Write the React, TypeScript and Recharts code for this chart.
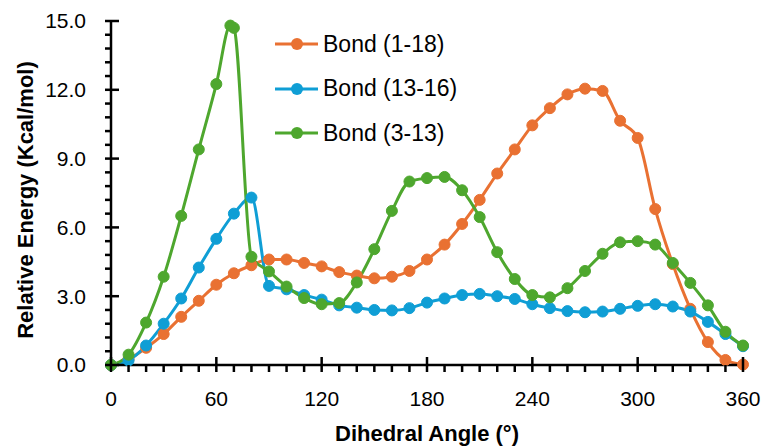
import React from 'react';
import { LineChart, Line, XAxis, YAxis, Legend } from 'recharts';

const angles = [0, 10, 20, 30, 40, 50, 60, 70, 80, 90, 100, 110, 120, 130, 140, 150, 160, 170, 180, 190, 200, 210, 220, 230, 240, 250, 260, 270, 280, 290, 300, 310, 320, 330, 340, 350, 360];
const bond118 = [0, 0.25, 0.75, 1.35, 2.1, 2.8, 3.5, 4.0, 4.35, 4.6, 4.6, 4.45, 4.3, 4.05, 3.9, 3.78, 3.85, 4.1, 4.6, 5.25, 6.15, 7.2, 8.35, 9.4, 10.45, 11.2, 11.8, 12.05, 11.95, 10.65, 9.9, 6.8, 4.4, 2.45, 1.0, 0.22, 0.02];
const bond1316 = [0, 0.2, 0.85, 1.8, 2.9, 4.25, 5.5, 6.6, 7.3, 3.45, 3.3, 3.05, 2.85, 2.6, 2.5, 2.4, 2.38, 2.48, 2.72, 2.9, 3.05, 3.1, 3.0, 2.88, 2.65, 2.48, 2.35, 2.3, 2.33, 2.45, 2.58, 2.65, 2.55, 2.33, 1.88, 1.35, 0.82];
const anglesB313 = [0, 10, 20, 30, 40, 50, 60, 68, 70, 80, 90, 100, 110, 120, 130, 140, 150, 160, 170, 180, 190, 200, 210, 220, 230, 240, 250, 260, 270, 280, 290, 300, 310, 320, 330, 340, 350, 360];
const bond313 = [0, 0.45, 1.85, 3.85, 6.5, 9.4, 12.25, 14.8, 14.7, 4.72, 4.08, 3.42, 2.92, 2.65, 2.7, 3.6, 5.05, 6.72, 8.0, 8.15, 8.2, 7.62, 6.45, 4.92, 3.75, 3.05, 2.95, 3.35, 4.1, 4.85, 5.35, 5.4, 5.25, 4.45, 3.58, 2.6, 1.45, 0.85];

const xMajorTicks = [0, 60, 120, 180, 240, 300, 360];
const yMajorTicks = [0, 3, 6, 9, 12, 15];
const xTicks = Array.from({ length: 37 }, (_, i) => i * 10);
const yTicks = Array.from({ length: 26 }, (_, i) => Math.round(i * 6) / 10);

const series = [
  { name: 'Bond (1-18)', color: '#E97132', xs: angles, ys: bond118 },
  { name: 'Bond (13-16)', color: '#0F9ED5', xs: angles, ys: bond1316 },
  { name: 'Bond (3-13)', color: '#4EA72E', xs: anglesB313, ys: bond313 },
];

const FONT = '"Liberation Sans", Arial, sans-serif';

const isMajor = (v: number, list: number[]) => list.some((m) => Math.abs(m - v) < 1e-6);

const XTick = (props: any) => {
  const { x, y, payload } = props;
  const v = payload.value;
  const major = isMajor(v, xMajorTicks);
  return (
    <g>
      <line x1={x} x2={x} y1={major ? y - 8 : y} y2={y + 7} stroke="#000" strokeWidth={2.5} />
      {major && (
        <text x={x} y={y + 34} dy="0.35em" textAnchor="middle" fontSize={21} fontFamily={FONT} fill="#000">
          {v}
        </text>
      )}
    </g>
  );
};

const YTick = (props: any) => {
  const { x, y, payload } = props;
  const v = payload.value;
  const major = isMajor(v, yMajorTicks);
  return (
    <g>
      <line x1={x - 6} x2={major ? x + 8 : x} y1={y} y2={y} stroke="#000" strokeWidth={2.5} />
      {major && (
        <text x={x - 25} y={y} dy="0.35em" textAnchor="end" fontSize={21} fontFamily={FONT} fill="#000">
          {v.toFixed(1)}
        </text>
      )}
    </g>
  );
};

const XTitle = (props: any) => {
  const vb = props.viewBox;
  return (
    <text x={vb.x + vb.width / 2} y={vb.y + 68} dy="0.35em" textAnchor="middle" fontSize={22} fontWeight="bold" fontFamily={FONT} fill="#000">
      Dihedral Angle (°)
    </text>
  );
};

const YTitle = (props: any) => {
  const cx = 25;
  const cy = 200;
  return (
    <text x={cx} y={cy} dy="0.35em" transform={`rotate(-90, ${cx}, ${cy})`} textAnchor="middle" fontSize={22} fontWeight="bold" fontFamily={FONT} fill="#000">
      Relative Energy (Kcal/mol)
    </text>
  );
};

const LegendContent = () => (
  <div style={{ fontFamily: FONT }}>
    {series.map((s) => (
      <div key={s.name} style={{ display: 'flex', alignItems: 'center', height: 44.5 }}>
        <svg width={43} height={14} style={{ display: 'block' }}>
          <line x1={0} x2={43} y1={7} y2={7} stroke={s.color} strokeWidth={3} />
          <circle cx={22} cy={7} r={6} fill={s.color} />
        </svg>
        <span style={{ marginLeft: 5, fontSize: 23, lineHeight: 1, color: '#000', whiteSpace: 'nowrap' }}>{s.name}</span>
      </div>
    ))}
  </div>
);

export default function App() {
  return (
    <div style={{ position: 'absolute', left: 0, top: 0, width: 765, height: 448, background: '#fff' }}>
      <LineChart width={765} height={448} margin={{ top: 21, right: 22, bottom: 0, left: 0 }}>
        <XAxis
          type="number"
          dataKey="x"
          domain={[0, 360]}
          ticks={xTicks}
          interval={0}
          tickSize={0}
          tickMargin={0}
          tickLine={false}
          tick={<XTick />}
          axisLine={{ stroke: '#000', strokeWidth: 2.5 }}
          height={83}
          allowDuplicatedCategory={false}
          label={<XTitle />}
        />
        <YAxis
          type="number"
          domain={[0, 15]}
          ticks={yTicks}
          interval={0}
          tickSize={0}
          tickMargin={0}
          tickLine={false}
          tick={<YTick />}
          axisLine={{ stroke: '#000', strokeWidth: 2.5 }}
          width={111}
          label={<YTitle />}
        />
        <Legend
          layout="horizontal"
          align="center"
          verticalAlign="middle"
          content={<LegendContent />}
          wrapperStyle={{ position: 'absolute', left: 275, top: 22, width: 240, height: 134 }}
        />
        {series.map((s) => (
          <Line
            key={s.name}
            name={s.name}
            data={s.xs.map((x, i) => ({ x, y: s.ys[i] }))}
            dataKey="y"
            type="monotone"
            stroke={s.color}
            strokeWidth={3}
            dot={{ r: 5.5, fill: s.color, stroke: s.color, strokeWidth: 1 }}
            isAnimationActive={false}
          />
        ))}
      </LineChart>
    </div>
  );
}
